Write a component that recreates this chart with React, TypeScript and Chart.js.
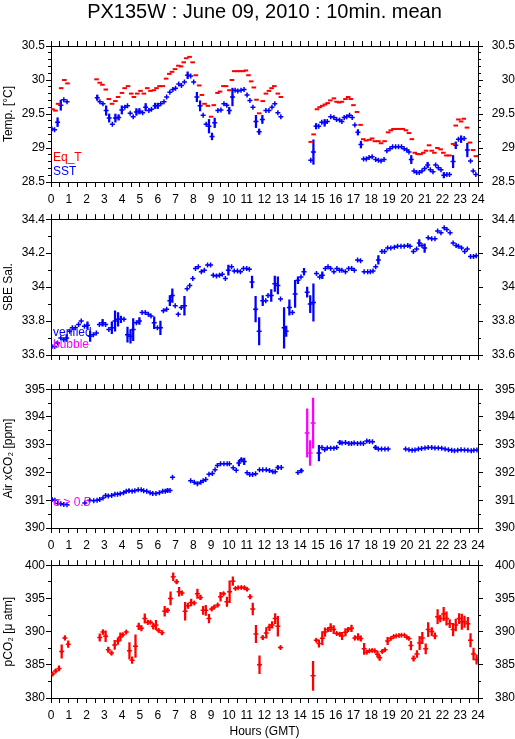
import React, { useEffect, useRef } from 'react';
import { Chart, registerables } from 'chart.js';

Chart.register(...registerables);

const FONT = '"Liberation Sans", Arial, Helvetica, sans-serif';
const BLUE = '#0000ff';
const RED = '#ff0000';
const MAGENTA = '#ff00ff';

const TITLE = 'PX135W : June 09, 2010 : 10min. mean';

// ---------- Panel 1: temperatures ----------
const eqtHours = [
  0.08, 0.25, 0.4, 0.57, 0.75, 0.93,
  2.56, 2.74, 2.89, 3.08, 3.25, 3.43, 3.62, 3.77, 3.99, 4.14, 4.33, 4.51, 4.66, 4.85,
  5.03, 5.22, 5.41, 5.59, 5.78, 5.93, 6.1, 6.28, 6.47, 6.65, 6.8, 6.97, 7.16, 7.31,
  7.46, 7.6, 7.79, 7.96, 8.14, 8.33, 8.48, 8.63, 8.82, 9.0, 9.15, 9.36, 9.5, 9.69,
  9.84, 10.03, 10.17, 10.3, 10.47, 10.63, 10.8, 10.95, 11.1, 11.25, 11.4, 11.55, 11.7,
  11.9, 12.08, 12.25, 12.4, 12.55, 12.75, 12.92,
  14.6, 14.76, 14.95, 15.1, 15.25, 15.4, 15.55, 15.7, 15.9, 16.05, 16.2, 16.35, 16.55,
  16.7, 16.85, 17.0, 17.2, 17.4, 17.55, 17.7, 17.9, 18.05, 18.2, 18.4, 18.55, 18.75,
  18.95, 19.1, 19.25, 19.42, 19.6, 19.77, 19.95, 20.12, 20.28, 20.45, 20.6, 20.77,
  20.93, 21.08, 21.25, 21.4, 21.55, 21.72, 21.9, 22.05, 22.22, 22.4, 22.6, 22.75,
  22.9, 23.05, 23.2, 23.38, 23.55, 23.72, 23.88,
];
const eqtValues = [
  29.57, 29.55, 29.65, 29.88, 30.0, 29.95,
  30.01, 29.96, 29.93, 29.86, 29.72, 29.65, 29.69, 29.75, 29.81, 29.88, 29.91, 29.8, 29.75, 29.8,
  29.84, 29.8, 29.88, 29.84, 29.85, 29.88, 29.91, 29.91, 30.02, 30.09, 30.12, 30.16, 30.21, 30.2,
  30.26, 30.32, 30.34, 30.26, 30.07, 29.92, 29.78, 29.65, 29.62, 29.46, 29.63, 29.81, 29.83, 29.91,
  29.91, 29.85, 30.0, 30.13, 30.13, 30.13, 30.13, 30.14, 30.07, 29.98, 29.89, 29.71, 29.51,
  29.69, 29.8, 29.84, 29.88, 29.91, 29.8, 29.75,
  29.09, 29.2, 29.57, 29.6, 29.62, 29.64, 29.66, 29.7, 29.73, 29.68, 29.67, 29.68, 29.72,
  29.75, 29.72, 29.63, 29.53, 29.34, 29.13, 29.11, 29.12, 29.14, 29.1, 29.1, 29.07, 29.1,
  29.23, 29.26, 29.28, 29.28, 29.28, 29.28, 29.26, 29.22, 29.13, 28.93, 28.91, 28.91,
  28.93, 28.96, 29.04, 28.96, 28.93, 29.0, 28.98, 28.93, 28.89, 28.89, 29.06, 29.33,
  29.42, 29.39, 29.43, 29.3, 29.08, 28.97, 28.88,
];

const sstHours = [
  0.05, 0.2, 0.37, 0.55, 0.72, 0.9,
  2.6, 2.75, 2.92, 3.1, 3.27, 3.45, 3.62, 3.8, 3.98, 4.15, 4.3, 4.45, 4.62, 4.8, 4.97,
  5.15, 5.32, 5.5, 5.65, 5.85, 6.0, 6.17, 6.35, 6.5, 6.68, 6.85, 7.0, 7.18, 7.33, 7.5,
  7.68, 7.85, 8.02, 8.2, 8.38, 8.55, 8.72, 8.88, 9.05, 9.2, 9.38, 9.55, 9.72, 9.88,
  10.02, 10.2, 10.35, 10.5, 10.68, 10.85, 11.02, 11.18, 11.35, 11.52, 11.7, 11.88,
  12.08, 12.25, 12.42, 12.58, 12.75, 12.92,
  14.6, 14.75, 14.9, 15.05, 15.22, 15.38, 15.53, 15.72, 15.9, 16.05, 16.22, 16.35,
  16.48, 16.62, 16.78, 16.93, 17.08, 17.25, 17.42, 17.57, 17.72, 17.88, 18.05, 18.25,
  18.4, 18.55, 18.72, 18.88, 19.05, 19.2, 19.37, 19.53, 19.7, 19.85, 20.0, 20.12,
  20.25, 20.4, 20.55, 20.7, 20.85, 21.0, 21.17, 21.32, 21.47, 21.62, 21.77, 21.92,
  22.08, 22.25, 22.4, 22.6, 22.75, 22.9, 23.05, 23.22, 23.4, 23.58, 23.73, 23.88,
];
const sstValues = [
  29.28, 29.27, 29.38, 29.63, 29.71, 29.68,
  29.74, 29.68, 29.65, 29.55, 29.44, 29.35, 29.44, 29.45, 29.56, 29.6, 29.62, 29.51, 29.46, 29.53, 29.54,
  29.52, 29.6, 29.55, 29.57, 29.62, 29.62, 29.65, 29.68, 29.75, 29.82, 29.86, 29.88, 29.94, 29.92, 29.97,
  30.07, 30.06, 29.97, 29.75, 29.62, 29.48, 29.35, 29.32, 29.17, 29.37, 29.55, 29.56, 29.65, 29.63,
  29.55, 29.75, 29.85, 29.84, 29.85, 29.86, 29.78, 29.7, 29.6, 29.39, 29.24, 29.42,
  29.55, 29.55, 29.6, 29.65, 29.52, 29.46,
  28.82, 28.94, 29.32, 29.32, 29.38, 29.37, 29.39, 29.46, 29.45, 29.42, 29.41, 29.39,
  29.45, 29.46, 29.48, 29.45, 29.34, 29.23, 29.05, 28.84, 28.84, 28.86, 28.87, 28.83,
  28.82, 28.81, 28.83, 28.96, 28.99, 29.02, 29.02, 29.02, 29.02, 28.99, 28.97, 28.94,
  28.83, 28.66, 28.64, 28.64, 28.66, 28.7, 28.75, 28.68, 28.65, 28.75, 28.71, 28.68,
  28.6, 28.61, 28.61, 28.8, 29.04, 29.13, 29.13, 29.14, 28.97, 28.81, 28.66, 28.61,
];
const sstErr = [
  0, 0, 0.065, 0.075, 0, 0,
  0.04, 0, 0, 0.07, 0.06, 0, 0.06, 0.04, 0.06, 0, 0, 0, 0, 0.05, 0.04,
  0, 0.055, 0, 0, 0.04, 0.04, 0, 0, 0, 0, 0, 0, 0, 0, 0,
  0.05, 0, 0, 0.07, 0.075, 0, 0, 0.1, 0.05, 0.07, 0, 0, 0, 0,
  0.05, 0.13, 0, 0, 0, 0, 0, 0, 0, 0.09, 0.04, 0.06,
  0, 0, 0, 0, 0, 0,
  0, 0.18, 0.04, 0, 0, 0.05, 0, 0, 0, 0, 0, 0,
  0, 0, 0, 0, 0, 0.04, 0.05, 0, 0, 0, 0, 0,
  0, 0, 0, 0, 0, 0, 0, 0, 0, 0, 0, 0,
  0.06, 0, 0, 0, 0, 0, 0.04, 0, 0, 0, 0, 0,
  0.04, 0, 0, 0.09, 0.05, 0, 0.05, 0, 0.1, 0, 0, 0,
];

// ---------- Panel 2: salinity ----------
const salHours = [
  0.05, 0.2, 0.37, 0.55, 0.72, 0.88, 1.05, 1.2, 1.37, 1.55, 1.7, 1.88, 2.05, 2.2, 2.38, 2.55,
  2.72, 2.9, 3.07, 3.25, 3.42, 3.6, 3.77, 3.93, 4.1, 4.3, 4.47, 4.62, 4.8, 4.97, 5.12, 5.3,
  5.47, 5.62, 5.8, 5.98, 6.15, 6.32, 6.5, 6.68, 6.82, 6.98, 7.15, 7.32, 7.5, 7.65, 7.8, 7.97,
  8.12, 8.28, 8.45, 8.62, 8.8, 8.97, 9.12, 9.3, 9.47, 9.63, 9.8, 9.97, 10.15, 10.3, 10.48,
  10.65, 10.82, 11.0, 11.15, 11.3, 11.5, 11.7, 11.9, 12.07, 12.2, 12.38, 12.58, 12.75, 12.9,
  13.1, 13.22, 13.4, 13.57, 13.72, 13.88, 14.05, 14.22, 14.4, 14.57, 14.75, 14.92, 15.1,
  15.25, 15.42, 15.57, 15.72, 15.9, 16.07, 16.22, 16.35, 16.55, 16.73, 16.9, 17.05, 17.23,
  17.4, 17.6, 17.8, 17.95, 18.1, 18.25, 18.4, 18.6, 18.75, 18.92, 19.1, 19.3, 19.48, 19.67,
  19.85, 20.05, 20.18, 20.37, 20.55, 20.7, 20.85, 21.0, 21.2, 21.4, 21.58, 21.73, 21.92,
  22.1, 22.25, 22.43, 22.6, 22.77, 22.9, 23.08, 23.25, 23.4, 23.58, 23.75, 23.9,
];
const salValues = [
  33.65, 33.65, 33.67, 33.7, 33.69, 33.7, 33.74, 33.76, 33.76, 33.78, 33.8, 33.77, 33.775, 33.71, 33.72, 33.73,
  33.78, 33.79, 33.78, 33.75, 33.76, 33.8, 33.81, 33.81, 33.81, 33.72, 33.71, 33.75, 33.79, 33.8, 33.85, 33.85,
  33.84, 33.83, 33.79, 33.76, 33.76, 33.86, 33.87, 33.92, 33.95, 33.89, 33.84, 33.88, 33.89, 33.99, 34.01, 34.05,
  34.11, 34.12, 34.09, 34.1, 34.13, 34.13, 34.07, 34.065, 34.07, 34.075, 34.05, 34.1, 34.12, 34.095, 34.095,
  34.09, 34.11, 34.11, 34.105, 34.03, 33.87, 33.74, 33.92, 33.92, 33.95, 33.95, 34.02, 34.01, 33.93,
  33.76, 33.74, 33.88, 33.85, 33.96, 34.04, 34.06, 34.09, 33.97, 33.9, 33.91, 34.08, 34.06,
  34.07, 34.11, 34.12, 34.11, 34.09, 34.11, 34.1, 34.1, 34.09, 34.11, 34.11, 34.1, 34.16,
  34.155, 34.09, 34.09, 34.09, 34.095, 34.12, 34.16, 34.21, 34.21, 34.23, 34.23, 34.235, 34.24, 34.24,
  34.24, 34.245, 34.24, 34.21, 34.225, 34.26, 34.245, 34.23, 34.29, 34.285, 34.285, 34.33, 34.32,
  34.35, 34.34, 34.32, 34.26, 34.245, 34.24, 34.23, 34.21, 34.225, 34.18, 34.18, 34.185,
];
const salErr = [
  0, 0, 0, 0, 0, 0.02, 0, 0, 0, 0, 0, 0, 0.02, 0.03, 0, 0,
  0, 0.02, 0, 0, 0.035, 0.06, 0.04, 0.02, 0, 0.045, 0.04, 0.065, 0, 0.02, 0, 0,
  0, 0, 0.035, 0, 0.04, 0, 0, 0.03, 0.04, 0, 0, 0, 0.055, 0, 0, 0,
  0, 0, 0, 0, 0, 0, 0, 0, 0, 0, 0, 0.03, 0, 0, 0,
  0, 0, 0, 0, 0.035, 0.075, 0.08, 0.03, 0, 0, 0.035, 0.045, 0.05, 0,
  0.12, 0.03, 0.045, 0, 0.08, 0.02, 0, 0.02, 0.03, 0.05, 0.11, 0, 0,
  0.02, 0, 0, 0, 0, 0, 0, 0, 0, 0, 0, 0, 0,
  0, 0, 0, 0, 0, 0, 0.025, 0, 0, 0, 0, 0, 0, 0,
  0, 0, 0, 0, 0, 0.02, 0, 0.025, 0, 0, 0, 0, 0,
  0, 0, 0, 0, 0, 0, 0, 0, 0, 0, 0, 0,
];

// ---------- Panel 3: air xCO2 ----------
const airHours = [
  0.05, 0.22, 0.38, 0.55, 0.72, 0.9, 1.9, 2.18, 2.4, 2.59, 2.74, 2.92, 3.07, 3.22, 3.41,
  3.59, 3.74, 3.89, 4.08, 4.23, 4.38, 4.56, 4.71, 4.9, 5.07, 5.21, 5.38, 5.57, 5.72, 5.9,
  6.09, 6.28, 6.42, 6.55, 6.69, 6.83,
  7.85, 8.05, 8.23, 8.42, 8.55, 8.7, 8.88, 9.07, 9.22, 9.35, 9.53, 9.72, 9.9, 10.03,
  10.24, 10.41, 10.56, 10.7, 10.86, 11.02, 11.17, 11.33, 11.5, 11.72, 11.9, 12.1, 12.28,
  12.47, 12.6, 12.75, 12.94,
  13.88, 14.07,
  15.06, 15.23, 15.38, 15.53, 15.72, 15.9, 16.06, 16.23, 16.36, 16.55, 16.74, 16.89, 17.04,
  17.23, 17.4, 17.56, 17.75, 17.9, 18.07, 18.24, 18.4, 18.58, 18.77, 18.95,
  19.93, 20.12, 20.3, 20.46, 20.65, 20.83, 21.02, 21.2, 21.4, 21.58, 21.77, 21.96, 22.15,
  22.34, 22.52, 22.68, 22.86, 23.05, 23.24, 23.43, 23.62, 23.77, 23.94,
];
const airValues = [
  391.03, 391.0, 390.88, 390.87, 390.85, 390.84, 390.9, 391.0, 390.98, 391.0, 391.03, 391.08, 391.17, 391.15, 391.17,
  391.22, 391.22, 391.23, 391.27, 391.32, 391.34, 391.32, 391.34, 391.38, 391.38, 391.34, 391.32, 391.27, 391.24, 391.24,
  391.27, 391.32, 391.32, 391.35, 391.35, 391.83,
  391.7, 391.65, 391.59, 391.65, 391.7, 391.75, 391.94, 391.96, 392.1, 392.25, 392.31, 392.31, 392.31, 392.31,
  392.17, 392.08, 392.34, 392.46, 392.4, 391.99, 391.93, 391.93, 391.95, 392.1, 392.1, 392.1, 392.07,
  392.03, 392.03, 392.18, 392.18,
  392.0, 392.06,
  392.7, 392.9, 392.82, 392.88, 392.87, 392.87, 392.9, 393.08, 393.06, 393.08, 393.04, 393.04, 393.06,
  393.04, 393.05, 393.04, 393.13, 393.12, 393.11, 392.9, 392.85, 392.85, 392.85, 392.85,
  392.85, 392.82, 392.8, 392.81, 392.85, 392.86, 392.88, 392.9, 392.9, 392.88, 392.88, 392.87, 392.85,
  392.82, 392.8, 392.78, 392.8, 392.82, 392.81, 392.8, 392.78, 392.8, 392.81,
];
const airErr = [
  0.06, 0, 0, 0, 0, 0, 0, 0, 0, 0, 0, 0, 0, 0, 0,
  0, 0, 0, 0, 0, 0.05, 0, 0, 0, 0, 0, 0, 0, 0, 0,
  0, 0, 0, 0.06, 0, 0,
  0, 0, 0, 0, 0, 0, 0, 0, 0, 0, 0, 0, 0, 0,
  0, 0, 0.1, 0.06, 0.12, 0, 0, 0, 0, 0, 0, 0, 0,
  0, 0, 0.06, 0,
  0, 0.06,
  0.28, 0, 0, 0, 0, 0, 0, 0.06, 0, 0, 0, 0, 0,
  0, 0, 0, 0, 0, 0, 0.06, 0, 0, 0, 0,
  0, 0, 0, 0, 0, 0, 0, 0, 0, 0, 0, 0, 0,
  0, 0, 0, 0, 0, 0, 0, 0, 0, 0,
];
const airFlagHours = [14.4, 14.56, 14.73];
const airFlagValues = [393.42, 392.7, 393.78];
const airFlagErr = [0.87, 0.45, 0.9];

// ---------- Panel 4: seawater pCO2 ----------
const pco2Hours = [
  0.1, 0.26, 0.45, 0.6, 0.78, 0.97,
  2.74, 2.92, 3.07, 3.22, 3.4, 3.58, 3.76, 3.9, 4.04, 4.23, 4.41, 4.56, 4.75, 4.93,
  5.08, 5.27, 5.44, 5.59, 5.75, 5.9, 6.05, 6.24, 6.39, 6.55, 6.72, 6.87, 7.06, 7.2,
  7.36, 7.54, 7.7, 7.88, 8.05, 8.23, 8.4, 8.55, 8.7, 8.88, 9.03, 9.18, 9.37, 9.53,
  9.7, 9.89, 10.04, 10.22, 10.37, 10.52, 10.7, 10.87, 11.02, 11.19, 11.34, 11.52,
  11.72, 11.9, 12.1, 12.28, 12.43, 12.6, 12.75, 12.9,
  14.73, 14.91, 15.06, 15.25, 15.4, 15.57, 15.72, 15.89, 16.06, 16.23, 16.36, 16.55,
  16.7, 16.89, 17.08, 17.26, 17.41, 17.6, 17.75, 17.9, 18.05, 18.2, 18.35, 18.47,
  18.62, 18.77, 18.92, 19.1, 19.26, 19.4, 19.56, 19.7, 19.86, 20.0, 20.12, 20.23,
  20.38, 20.57, 20.72, 20.87, 21.06, 21.2, 21.4, 21.58, 21.73, 21.88, 22.07, 22.23,
  22.41, 22.6, 22.75, 22.94, 23.09, 23.24, 23.43, 23.58, 23.75, 23.92,
];
const pco2Values = [
  383.6, 384.07, 384.46, 387.0, 389.05, 388.1,
  389.1, 389.93, 389.3, 387.26, 386.78, 388.0, 388.57, 389.2, 389.54, 389.93, 387.1, 385.7, 387.8, 390.8,
  390.5, 391.96, 391.4, 391.4, 390.8, 391.0, 390.17, 389.83, 393.07, 393.2, 395.0, 398.26, 397.5, 396.0,
  395.8, 393.07, 393.9, 394.38, 394.3, 395.7, 395.15, 393.2, 393.2, 391.96, 393.4, 393.7, 394.0, 395.25,
  395.7, 394.5, 396.0, 397.6, 396.5, 396.6, 396.66, 396.6, 396.37, 395.25, 393.4, 389.65,
  385.0, 389.1, 389.8, 390.65, 391.0, 391.96, 390.8, 387.6,
  383.34, 388.7, 388.2, 389.0, 389.93, 390.3, 390.6, 390.3, 389.7, 389.6, 389.35, 389.9,
  390.3, 390.5, 389.05, 389.2, 388.96, 387.4, 386.9, 387.1, 387.17, 387.1, 386.6, 386.05,
  387.0, 387.26, 388.57, 388.96, 389.25, 389.35, 389.4, 389.44, 389.44, 389.15, 388.96, 387.9,
  385.96, 386.63, 388.28, 389.05, 387.4, 390.3, 390.0, 389.35, 392.25, 391.96, 392.64, 391.96,
  391.2, 390.3, 391.0, 391.96, 391.48, 391.48, 391.2, 388.7, 386.63, 385.8,
];
const pco2Err = [
  0.15, 0.25, 0.4, 1.0, 0.3, 0.5,
  0.55, 0.35, 0.8, 0.4, 0.3, 0.7, 0.5, 0.6, 0.2, 0.2, 1.25, 0.5, 1.7, 0.5,
  0.4, 0.7, 0.3, 0.2, 0.45, 0.7, 0.2, 0.3, 0.75, 0.3, 1.0, 0.6, 0.3, 0.65,
  0.3, 1.35, 0.4, 0.5, 0.2, 0.7, 0.35, 0.6, 0.75, 0.65, 0.2, 0.2, 0.2, 0.65,
  0.2, 0.7, 1.65, 0.65, 0.15, 0.15, 0.15, 0.2, 0.2, 0.3, 0.9, 1.3,
  1.35, 0.3, 0.8, 0.5, 0.5, 0.75, 1.5, 0.2,
  2.2, 0.2, 0.55, 1.0, 0.65, 0.3, 0.6, 0.6, 0.2, 0.3, 0.55, 0.55,
  0.3, 0.5, 0.3, 0.5, 0.4, 0.85, 0.2, 0.15, 0.15, 0.15, 0.45, 0.4,
  0.2, 0.2, 0.55, 0.15, 0.15, 0.1, 0.1, 0.1, 0.1, 0.15, 0.15, 0.65,
  0.4, 0.5, 1.0, 0.85, 0.75, 1.05, 0.6, 0.45, 1.05, 0.5, 1.0, 1.0,
  0.6, 0.95, 0.9, 0.75, 1.15, 0.85, 0.95, 1.0, 0.9, 0.7,
];

// ---------- helpers ----------
const pts = (h: number[], v: number[]) => h.map((x, i) => ({ x, y: v[i] }));
const errs = (h: number[], v: number[], e: number[]) =>
  h.map((x, i) => ({ x, y: [v[i] - e[i], v[i] + e[i]] })).filter((_, i) => e[i] > 0);

const crossSet = (label: string, h: number[], v: number[], color: string) => ({
  type: 'scatter',
  label,
  data: pts(h, v),
  pointStyle: 'cross',
  pointRadius: 2.5,
  borderColor: color,
  backgroundColor: color,
  borderWidth: 1.5,
  showLine: false,
});
const dashSet = (label: string, h: number[], v: number[], color: string) => ({
  type: 'scatter',
  label,
  data: pts(h, v),
  pointStyle: 'line',
  pointRadius: 2.3,
  borderColor: color,
  backgroundColor: color,
  borderWidth: 2,
  showLine: false,
});
const errSet = (label: string, h: number[], v: number[], e: number[], color: string) => ({
  type: 'bar',
  label,
  data: errs(h, v, e),
  backgroundColor: color,
  borderWidth: 0,
  barThickness: 1.6,
  grouped: false,
});

const insideText = {
  id: 'insideText',
  afterDatasetsDraw(chart: any, _args: any, opts: any) {
    const { ctx, chartArea } = chart;
    ctx.save();
    ctx.font = `12px ${FONT}`;
    ctx.textBaseline = 'middle';
    ctx.textAlign = 'left';
    for (const t of opts.items || []) {
      ctx.fillStyle = t.color;
      ctx.fillText(t.text, chartArea.left + 2, chartArea.bottom - t.dy);
    }
    ctx.restore();
  },
};

const xAxis = (position: string, height: number, labels: boolean, title?: string) => ({
  type: 'linear',
  position,
  min: 0,
  max: 24,
  offset: false,
  grid: { display: true, drawOnChartArea: false, drawTicks: true, tickLength: 5, color: '#000', lineWidth: 1, offset: false },
  border: { display: true, color: '#000', width: 1 },
  ticks: {
    stepSize: 0.5,
    autoSkip: false,
    maxRotation: 0,
    minRotation: 0,
    padding: 5,
    color: '#000',
    font: { family: FONT, size: 12 },
    callback: (v: number) => (labels && Math.abs(v - Math.round(v)) < 1e-6 ? String(Math.round(v)) : ''),
  },
  title: title
    ? { display: true, text: title, color: '#000', font: { family: FONT, size: 12, lineHeight: '14px' }, padding: { top: 0, bottom: 0 } }
    : { display: false },
  afterFit: (s: any) => {
    s.height = height;
  },
});

// labelled (major) y axis
const yAxis = (position: string, width: number, min: number, max: number, step: number, pad: number, title?: string) => ({
  type: 'linear',
  position,
  min,
  max,
  weight: 1,
  grid: { display: true, drawOnChartArea: false, drawTicks: true, tickLength: 5, color: '#000', lineWidth: 1 },
  border: { display: true, color: '#000', width: 1 },
  ticks: {
    stepSize: step,
    autoSkip: false,
    padding: pad,
    color: '#000',
    crossAlign: position === 'right' ? 'far' : 'near',
    font: { family: FONT, size: 12 },
    callback: (v: number) => String(parseFloat(Number(v).toFixed(1))),
  },
  title: title
    ? { display: true, text: title, color: '#000', font: { family: FONT, size: 12 }, padding: { top: 1, bottom: 0 } }
    : { display: false },
  afterFit: (s: any) => {
    s.width = width;
  },
});

// unlabelled minor-tick y axis sitting right against the plot
const yMinorAxis = (position: string, min: number, max: number, step: number) => ({
  type: 'linear',
  position,
  min,
  max,
  weight: 0,
  grid: { display: true, drawOnChartArea: false, drawTicks: true, tickLength: 3, color: '#000', lineWidth: 1 },
  border: { display: false },
  ticks: { stepSize: step, autoSkip: false, padding: 0, callback: () => '' },
  title: { display: false },
  afterFit: (s: any) => {
    s.width = 0;
  },
});

type PanelSpec = {
  top: number;
  height: number;
  topH: number;
  bottomH: number;
  bottomLabels: boolean;
  xTitle?: string;
  title?: string;
  yMin: number;
  yMax: number;
  yStep: number;
  yMajor: number;
  yTitle: string;
  rightPad: number;
  datasets: any[];
  texts: { text: string; color: string; dy: number }[];
};

const panels: PanelSpec[] = [
  {
    top: 0,
    height: 205,
    topH: 23,
    bottomH: 23,
    bottomLabels: true,
    title: TITLE,
    yMin: 28.5,
    yMax: 30.5,
    yStep: 0.1,
    yMajor: 0.5,
    yTitle: 'Temp. [°C]',
    rightPad: 7,
    datasets: [
      dashSet('Eq_T', eqtHours, eqtValues, RED),
      errSet('SST σ', sstHours, sstValues, sstErr, BLUE),
      crossSet('SST', sstHours, sstValues, BLUE),
    ],
    texts: [
      { text: 'Eq_T', color: RED, dy: 24 },
      { text: 'SST', color: BLUE, dy: 10 },
    ],
  },
  {
    top: 205,
    height: 168,
    topH: 12,
    bottomH: 18,
    bottomLabels: false,
    yMin: 33.6,
    yMax: 34.4,
    yStep: 0.1,
    yMajor: 0.2,
    yTitle: 'SBE Sal.',
    rightPad: 7,
    datasets: [
      errSet('Sal σ', salHours, salValues, salErr, BLUE),
      crossSet('verified', salHours, salValues, BLUE),
    ],
    texts: [
      { text: 'verified', color: BLUE, dy: 22 },
      { text: 'bubble', color: MAGENTA, dy: 10 },
    ],
  },
  {
    top: 372,
    height: 186,
    topH: 16,
    bottomH: 30,
    bottomLabels: true,
    yMin: 390,
    yMax: 395,
    yStep: 0.5,
    yMajor: 1,
    yTitle: 'Air xCO₂ [ppm]',
    rightPad: 10,
    datasets: [
      errSet('Air σ', airHours, airValues, airErr, BLUE),
      crossSet('Air xCO2', airHours, airValues, BLUE),
      errSet('σ ≥ 0.5 bar', airFlagHours, airFlagValues, airFlagErr, MAGENTA),
      crossSet('σ ≥ 0.5', airFlagHours, airFlagValues, MAGENTA),
    ],
    texts: [{ text: 'σ ≥ 0.5', color: MAGENTA, dy: 25 }],
  },
  {
    top: 548,
    height: 191,
    topH: 13,
    bottomH: 41,
    bottomLabels: true,
    xTitle: 'Hours (GMT)',
    yMin: 380,
    yMax: 400,
    yStep: 2.5,
    yMajor: 5,
    yTitle: 'pCO₂ [μ atm]',
    rightPad: 10,
    datasets: [
      errSet('pCO2 σ', pco2Hours, pco2Values, pco2Err, RED),
      crossSet('pCO2', pco2Hours, pco2Values, RED),
    ],
    texts: [],
  },
];

function buildConfig(p: PanelSpec): any {
  return {
    type: 'scatter',
    data: { datasets: p.datasets },
    plugins: [insideText],
    options: {
      responsive: false,
      animation: false,
      devicePixelRatio: 1,
      events: [],
      layout: { padding: 0 },
      plugins: {
        legend: { display: false },
        tooltip: { enabled: false },
        title: p.title
          ? {
              display: true,
              text: p.title,
              color: '#000',
              fullSize: false,
              font: { family: FONT, size: 20, weight: 'normal', lineHeight: '22px' },
              padding: { top: 1, bottom: 0 },
            }
          : { display: false },
        insideText: { items: p.texts },
      },
      scales: {
        x: xAxis('bottom', p.bottomH, p.bottomLabels, p.xTitle),
        x2: xAxis('top', p.topH, false),
        y: yAxis('left', 51, p.yMin, p.yMax, p.yMajor, 1, p.yTitle),
        yMinorL: yMinorAxis('left', p.yMin, p.yMax, p.yStep),
        y2: yAxis('right', 37, p.yMin, p.yMax, p.yMajor, p.rightPad),
        yMinorR: yMinorAxis('right', p.yMin, p.yMax, p.yStep),
      },
    },
  };
}

function Panel({ spec }: { spec: PanelSpec }) {
  const ref = useRef<HTMLCanvasElement>(null);
  useEffect(() => {
    if (!ref.current) return;
    const chart = new Chart(ref.current, buildConfig(spec));
    return () => chart.destroy();
  }, [spec]);
  return (
    <canvas
      ref={ref}
      width={515}
      height={spec.height}
      style={{ position: 'absolute', left: 0, top: spec.top, width: 515, height: spec.height }}
    />
  );
}

export default function App() {
  return (
    <div style={{ position: 'absolute', left: 0, top: 0, width: 515, height: 739, background: '#fff', overflow: 'hidden' }}>
      {panels.map((p, i) => (
        <Panel key={i} spec={p} />
      ))}
    </div>
  );
}
